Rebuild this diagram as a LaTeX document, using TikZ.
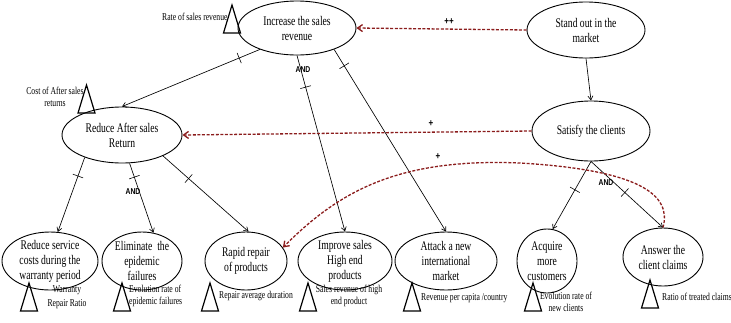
\documentclass[tikz,border=0pt]{standalone}
\usepackage{fontspec}
\setmainfont{Liberation Serif}[FakeStretch=0.73]
\newfontfamily\andfont{Liberation Sans}[FakeStretch=0.8]
\usetikzlibrary{shapes.geometric,arrows.meta,decorations.markings}
\definecolor{contribred}{RGB}{139,28,28}

\tikzset{
  goal/.style 2 args={ellipse, draw, line width=0.9pt, minimum width=#1, minimum height=#2,
    inner sep=-4pt, align=center, font=\fontsize{13.2}{15}\selectfont},
  link/.style={line width=0.65pt, -{Straight Barb[length=4pt,width=5pt]}},
  crossbar/.style={postaction={decorate, decoration={markings,
    mark=at position #1 with {\draw[-, line width=0.6pt] (0,-5.5pt) -- (0,5.5pt);}}}},
  contrib/.style={contribred, line width=1.3pt, dash pattern=on 3pt off 1.6pt,
    -{Straight Barb[length=5pt,width=7pt]}},
  indlabel/.style={font=\fontsize{10.5}{12}\selectfont, inner sep=0pt},
  andlabel/.style={font=\andfont\bfseries\fontsize{8.5}{9}\selectfont, inner sep=0pt},
  signlabel/.style={font=\andfont\bfseries\fontsize{10}{10}\selectfont, inner sep=0pt},
  indic/.pic={\draw[line width=1.2pt, line join=miter]
    (-8.5,14) -- (0,-14) -- (8.5,14) -- cycle;},
  indicw/.pic={\draw[line width=1.2pt, fill=white, line join=miter]
    (-8.5,14) -- (0,-14) -- (8.5,14) -- cycle;}
}

\begin{document}
\begin{tikzpicture}[x=1pt,y=-1pt]
\useasboundingbox (0,0) rectangle (731,322);

% indicator labels
\node[indlabel, anchor=west] (ind0) at (162,17) {Rate of sales revenue};
\node[indlabel, align=center] (ind1) at (55,97) {Cost of After sales\\returns};
\node[indlabel, align=center] (ind2) at (67,297) {Warranty\\[2pt]Repair Ratio};
\node[indlabel, align=left, anchor=west] (ind3) at (129,296) {Evolution rate of\\epidemic failures};
\node[indlabel, anchor=west] (ind4) at (219,296) {Repair average duration};
\node[indlabel, align=center] (ind5) at (349,296) {Sales revenue of high\\end product};
\node[indlabel, anchor=west] (ind6) at (421,298) {Revenue per capita /country};
\node[indlabel, align=center] (ind7) at (566,302) {Evolution rate of\\new clients};
\node[indlabel, anchor=west] (ind8) at (662,297) {Ratio of treated claims};

% indicator triangles
\pic at (232,19) {indicw};
\pic at (86.5,99) {indicw};
\pic at (29,297) {indic};
\pic at (122,297) {indic};
\pic at (210,297) {indic};
\pic at (308,297) {indic};
\pic at (412,297) {indic};
\pic at (533,297) {indic};
\pic at (650,294) {indic};

% goals
\node[goal={118pt}{54pt}] (inc) at (297,28) {Increase the sales\\revenue};
\node[goal={118pt}{56pt}] (sto) at (586,30) {Stand out in the\\market};
\node[goal={118pt}{60pt}] (sat) at (591,131) {Satisfy the clients};
\node[goal={120pt}{56pt}] (red) at (122,135) {Reduce After sales\\Return};
\node[goal={96pt}{58pt}] (rsc) at (50,261) {Reduce service\\costs during the\\warranty period};
\node[goal={80pt}{58pt}] (eli) at (142,261) {Eliminate~ the\\epidemic\\failures};
\node[goal={82pt}{58pt}] (rap) at (246,261) {Rapid repair\\of products};
\node[goal={94pt}{58pt}] (imp) at (345,261) {Improve sales\\High end\\products};
\node[goal={102pt}{58pt}] (att) at (446,261) {Attack a new\\international\\market};
\node[goal={60pt}{64pt}] (acq) at (547,261) {Acquire\\more\\customers};
\node[goal={80pt}{58pt}] (ans) at (663,257) {Answer the\\client claims};

% decomposition links
\draw[link, crossbar=0.15] (inc.210) -- (red.north);
\draw[link, crossbar=0.18] (inc.south) -- (imp.north);
\draw[link, crossbar=0.09] (inc.330) -- (att.north);
\draw[link, crossbar=0.25] (red.211) -- (rsc.75);
\draw[link, crossbar=0.2] (red.285) -- (eli.68);
\draw[link, crossbar=0.3] (red.333) -- (rap.85);
\draw[link] (sto.south) -- (sat.north);
\draw[link, crossbar=0.42] (sat.south) -- (acq.80);
\draw[link, crossbar=0.47] (sat.south) -- (ans.north);

\node[andlabel] (and1) at (303,70) {AND};
\node[andlabel] (and2) at (133,192) {AND};
\node[andlabel] (and3) at (606,183) {AND};

% contribution links
\draw[contrib] (sto.west) -- (inc.east);
\draw[contrib] (sat.west) -- (red.east);
\draw[contrib] (ans.north) .. controls (672,195) and (640,170) .. (520,163)
  .. controls (400,158) and (340,190) .. (rap.20);

\node[signlabel] (pp) at (449,22) {++};
\node[signlabel] (p1) at (431,124) {+};
\node[signlabel] (p2) at (438,157) {+};
\end{tikzpicture}
\end{document}
